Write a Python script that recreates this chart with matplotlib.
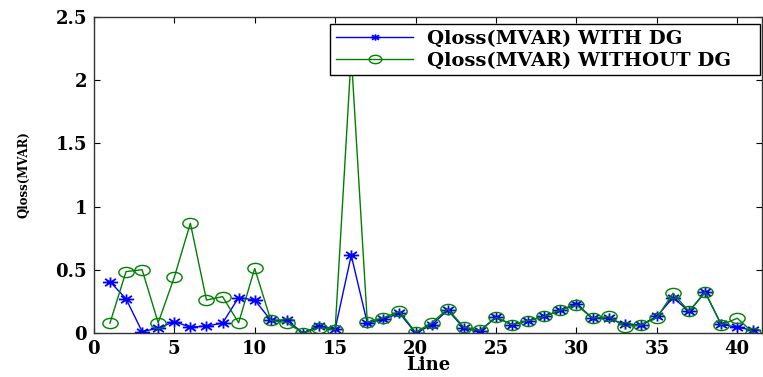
import matplotlib
matplotlib.use("Agg")
import matplotlib.pyplot as plt
import numpy as np
from matplotlib.path import Path
from matplotlib.lines import Line2D

lines = list(range(1, 42))
q_with_dg = [0.406, 0.27, 0.01, 0.037, 0.09, 0.045, 0.055, 0.077, 0.28, 0.26,
             0.10, 0.10, 0.0, 0.055, 0.03, 0.614, 0.077, 0.108, 0.156, 0.0,
             0.063, 0.18, 0.037, 0.015, 0.124, 0.063, 0.097, 0.13, 0.18, 0.23,
             0.116, 0.116, 0.068, 0.063, 0.13, 0.28, 0.17, 0.32, 0.068, 0.045,
             0.02]
q_without_dg = [0.077, 0.485, 0.50, 0.08, 0.44, 0.868, 0.26, 0.287, 0.08, 0.51,
                0.10, 0.08, 0.0, 0.04, 0.025, 2.2, 0.085, 0.12, 0.17, 0.005,
                0.08, 0.19, 0.045, 0.02, 0.124, 0.065, 0.097, 0.13, 0.18, 0.22,
                0.116, 0.13, 0.05, 0.063, 0.12, 0.314, 0.17, 0.325, 0.063, 0.116,
                0.0]
yticks = [0, 0.5, 1, 1.5, 2, 2.5]
ytick_labels = ["0", "0.5", "1", "1.5", "2", "2.5"]
xticks = [0, 5, 10, 15, 20, 25, 30, 35, 40]
series_labels = ['Qloss(MVAR) WITH DG', 'Qloss(MVAR) WITHOUT DG']

# stretched marker shapes (the reference is horizontally stretched)
circ = Path.unit_circle()
ellipse = Path(circ.vertices * np.array([1.5, 1.0]), circ.codes)
sx, sy = 1.5, 1.0
d = 0.7071
star_verts = [(-sx, 0), (sx, 0), (0, -sy), (0, sy),
              (-sx * d, -sy * d), (sx * d, sy * d), (-sx * d, sy * d), (sx * d, -sy * d)]
star_codes = [Path.MOVETO, Path.LINETO] * 4
star = Path(star_verts, star_codes)

serif = ['DejaVu Serif', 'Liberation Serif']
plt.rcParams['font.family'] = serif
plt.rcParams['font.weight'] = 'bold'

fig = plt.figure(figsize=(7.63, 3.77), dpi=100)
ax = fig.add_axes([0.123, 0.117, 0.876, 0.838])

ax.plot(lines, q_with_dg, color='#0000ff', marker=star, markersize=11,
        markeredgewidth=1.3, linewidth=1)
ax.plot(lines, q_without_dg, color='#008000', marker=ellipse, markersize=11,
        markerfacecolor='none', markeredgewidth=1, linewidth=1)

ax.set_xlim(0, 41.55)
ax.set_ylim(0, 2.5)
ax.set_xticks(xticks)
ax.set_yticks(yticks)
ax.set_yticklabels(ytick_labels)
ax.tick_params(direction='in', top=True, right=True, labelsize=13, length=4,
               pad=5)
for lab in ax.get_xticklabels() + ax.get_yticklabels():
    lab.set_fontweight('bold')
for s in ax.spines.values():
    s.set_linewidth(1)
    s.set_color('#333333')

ax.set_xlabel('Line', fontsize=13, fontweight='bold', labelpad=-1)
ax.yaxis.set_label_coords(-0.095, 0.5)
ax.set_ylabel('Qloss(MVAR)', fontsize=8.5, fontweight='bold')

handles = [
    Line2D([], [], color='#0000ff', marker=star, markersize=7, markeredgewidth=1.2,
           linewidth=1),
    Line2D([], [], color='#008000', marker=ellipse, markersize=9,
           markerfacecolor='none', markeredgewidth=1, linewidth=1),
]
leg = ax.legend(handles, series_labels, loc='upper left',
                bbox_to_anchor=(0.353, 0.978, 0.644, 0.0), mode='expand',
                frameon=True, fancybox=False, edgecolor='black', framealpha=1,
                borderpad=0.3, labelspacing=0.2, handlelength=4.0,
                handletextpad=0.7, borderaxespad=0,
                prop={'family': serif, 'weight': 'bold', 'size': 14})
leg.get_frame().set_linewidth(1)
leg.set_zorder(10)

fig.savefig('out.png', dpi=100)
